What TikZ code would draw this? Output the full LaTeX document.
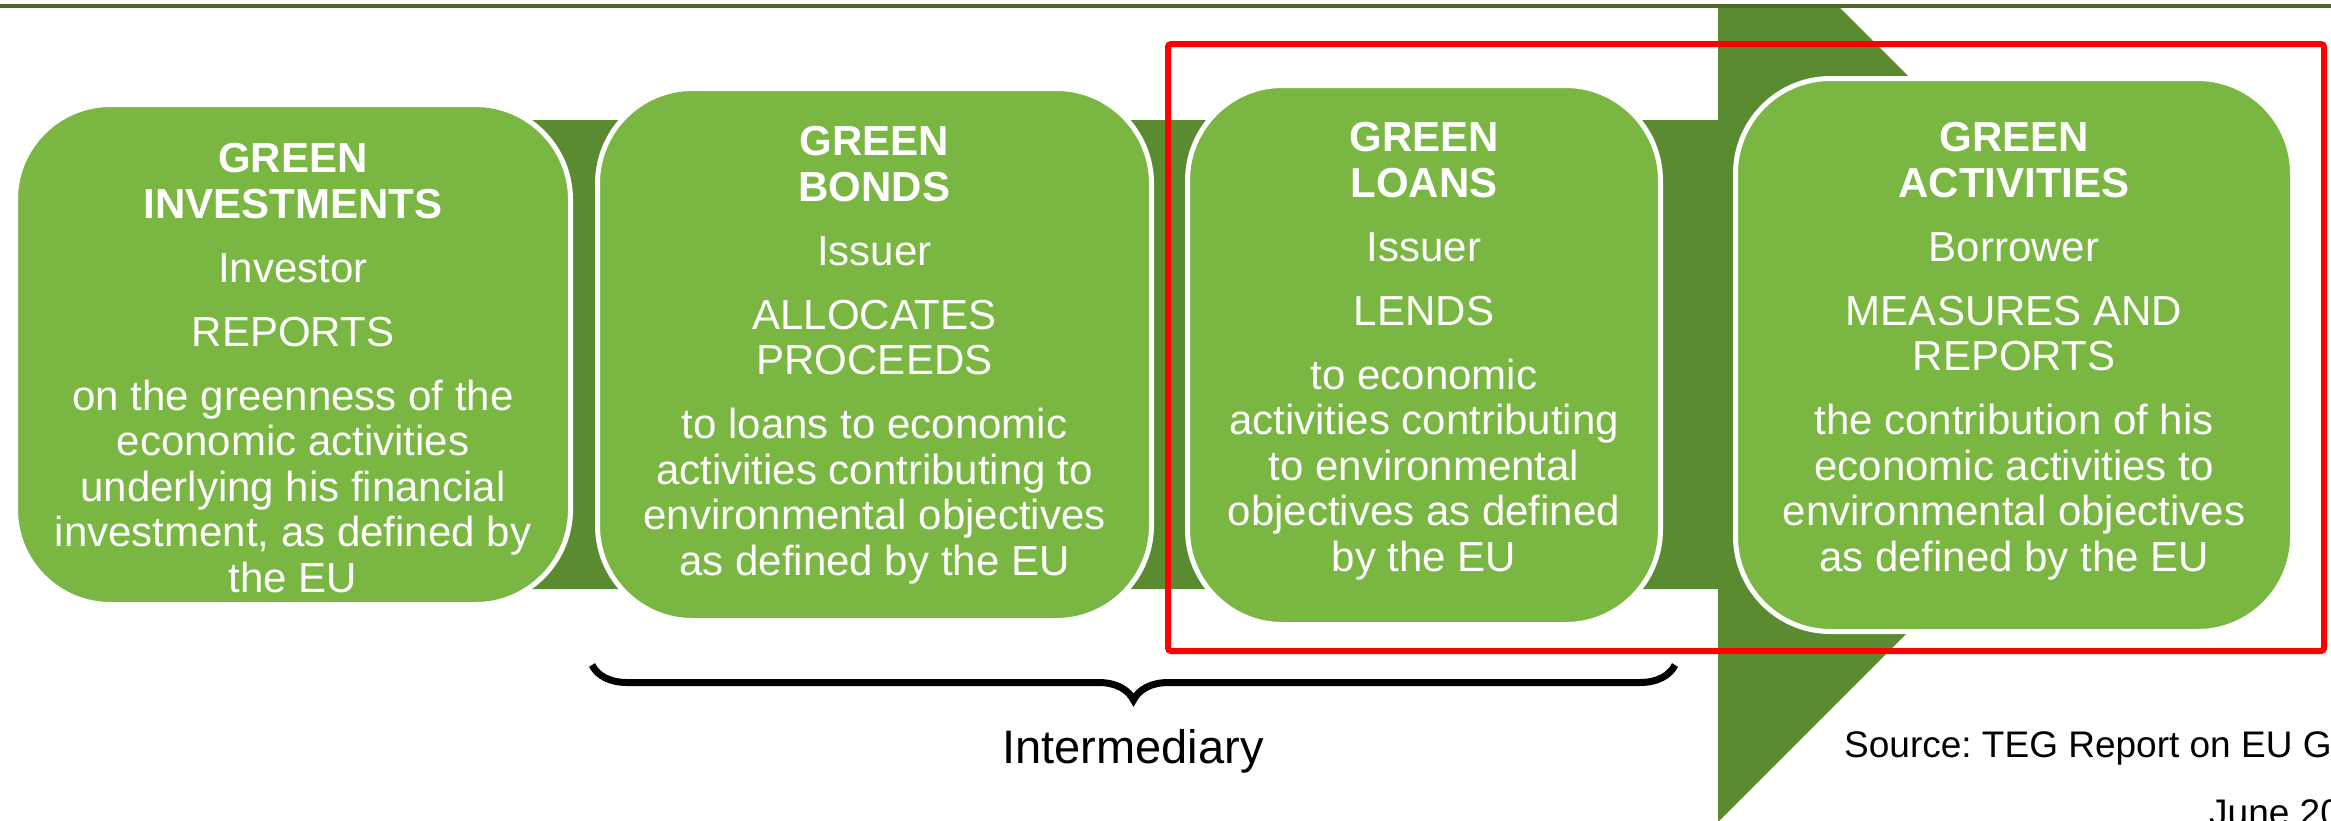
\documentclass[tikz,border=0pt]{standalone}
\usepackage{fontspec}
\setmainfont{Liberation Sans}
\usetikzlibrary{positioning,decorations.pathreplacing}

\definecolor{leaf}{RGB}{122,182,66}
\definecolor{moss}{RGB}{91,139,48}
\definecolor{ruleline}{RGB}{79,104,42}

\begin{document}
\frenchspacing
\begin{tikzpicture}[x=1pt, y=-1pt,
    panel/.style={draw=white, line width=5pt, fill=leaf, rounded corners=95pt, inner sep=0pt},
    paneltext/.style={anchor=north, align=center, text=white, inner sep=0pt,
        font=\fontsize{42}{45.5}\selectfont},
    note/.style={inner sep=0pt, font=\fontsize{37}{44}\selectfont}]
    \useasboundingbox (0,0) rectangle (2331,820);
    \clip (0,0) rectangle (2331,820);

    % rule along the top
    \draw[ruleline, line width=4pt] (0,6) -- (2331,6);

    % big arrow running behind the panels
    \fill[moss] (300,120) -- (1718,120) -- (1718,8) -- (1840,8) -- (2186,354)
        -- (1718,822) -- (1718,589) -- (300,589) -- cycle;

    % Panels
    \node[panel, minimum width=555pt, minimum height=500pt] (investments) at (293,354.5) {};
    \node[panel, minimum width=554pt, minimum height=532pt] (bonds) at (874.5,354.5) {};
    \node[panel, minimum width=473pt, minimum height=539pt] (loans) at (1424,355) {};
    \node[panel, minimum width=557pt, minimum height=553pt] (activities) at (2014,355) {};

    \node[paneltext] (investments-txt) at (293,143.4) {\textbf{GREEN}\\\textbf{INVESTMENTS}\\[18.5pt]
        Investor\\[18.5pt] REPORTS\\[18.5pt] on the greenness of the\\economic activities\\
        underlying his financial\\investment, as defined by\\the EU};
    \node[paneltext] (bonds-txt) at (874.5,126.4) {\textbf{GREEN}\\\textbf{BONDS}\\[18.5pt]
        Issuer\\[18.5pt] ALLOCATES\\PROCEEDS\\[18.5pt] to loans to economic\\
        activities contributing to\\environmental objectives\\as defined by the EU};
    \node[paneltext] (loans-txt) at (1424,122.4) {\textbf{GREEN}\\\textbf{LOANS}\\[18.5pt]
        Issuer\\[18.5pt] LENDS\\[18.5pt] to economic\\activities contributing\\
        to environmental\\objectives as defined\\by the EU};
    \node[paneltext] (activities-txt) at (2014,122.4) {\textbf{GREEN}\\\textbf{ACTIVITIES}\\[18.5pt]
        Borrower\\[18.5pt] MEASURES AND\\REPORTS\\[18.5pt] the contribution of his\\
        economic activities to\\environmental objectives\\as defined by the EU};

    % red frame
    \draw[red, line width=6pt, rounded corners=3pt] (1168,44) rectangle (2324,651);

    % brace under bonds and loans
    \coordinate (brace-l) at (592,665);
    \coordinate (brace-r) at (1675,665);
    \draw[decorate, decoration={brace, mirror, amplitude=35pt}, line width=7pt] (brace-l) -- (brace-r);
    \node[anchor=base, font=\fontsize{47}{56}\selectfont] (intermediary) at (1133,763) {Intermediary};

    % source note
    \node[note, anchor=base west] (source) at (1844,757) {Source: TEG Report on EU G};
    \node[note, anchor=base west] (date) at (2209,825.5) {June 20};
\end{tikzpicture}
\end{document}
